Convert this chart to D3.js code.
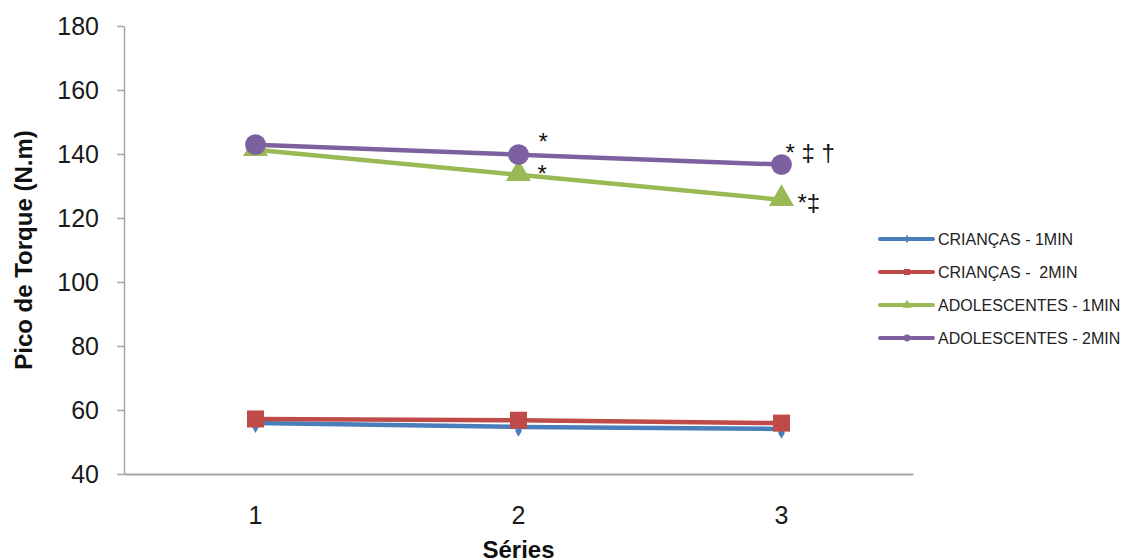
<!DOCTYPE html>
<html>
<head>
<meta charset="utf-8">
<script src="https://cdn.jsdelivr.net/npm/d3@7"></script>
<style>
  body { margin: 0; background: #fff; }
  svg { font-family: "Liberation Sans", Arial, sans-serif; }
</style>
</head>
<body>
<div id="chart"></div>
<script>
// data
const series = ['1', '2', '3'];
const criancas1 = [55.9, 54.7, 54.1];
const criancas2 = [57.2, 56.8, 55.9];
const adolescentes1 = [141.3, 133.5, 125.7];
const adolescentes2 = [142.9, 139.8, 136.7];
const seriesNames = ['CRIANÇAS - 1MIN', 'CRIANÇAS -  2MIN', 'ADOLESCENTES - 1MIN', 'ADOLESCENTES - 2MIN'];
const seriesColors = ['#4A7EBB', '#BE4B48', '#98B954', '#7D60A0'];
const yTicks = [40, 60, 80, 100, 120, 140, 160, 180];
// significance marks: [series index, category index, label]
const marks = [[3, 1, '*'], [2, 1, '*'], [3, 2, '* \u2021 \u2020'], [2, 2, '*\u2021']];

const width = 1126, height = 560;
const margin = {top: 26, right: 213, bottom: 86, left: 124};

let svg = d3.select('#chart').append('svg')
    .attr('width', width)
    .attr('height', height);

let x = d3.scaleBand()
    .domain(series)
    .range([margin.left, width - margin.right]);

let y = d3.scaleLinear()
    .domain([40, 180])
    .range([height - margin.bottom, margin.top]);

// y axis
let yAxis = svg.append('g')
    .attr('transform', 'translate(' + margin.left + ',0)')
    .call(d3.axisLeft(y).tickValues(yTicks).tickSize(7).tickPadding(18).tickSizeOuter(0));
yAxis.select('.domain').attr('stroke', '#a6a6a6').attr('stroke-width', 1.5);
yAxis.selectAll('.tick line').attr('stroke', '#a6a6a6').attr('stroke-width', 1.5);
yAxis.selectAll('.tick text')
    .attr('font-size', 25)
    .attr('fill', '#1a1a1a')
    .attr('font-family', '"Liberation Sans", Arial, sans-serif');

// x axis
let xAxis = svg.append('g')
    .attr('transform', 'translate(0,' + (height - margin.bottom) + ')')
    .call(d3.axisBottom(x).tickSize(0).tickPadding(32).tickSizeOuter(0));
xAxis.select('.domain').attr('stroke', '#a6a6a6').attr('stroke-width', 2);
xAxis.selectAll('.tick text')
    .attr('font-size', 25)
    .attr('fill', '#1a1a1a')
    .attr('font-family', '"Liberation Sans", Arial, sans-serif');

// axis titles
svg.append('text')
    .attr('transform', 'translate(32,' + (margin.top + (height - margin.bottom - margin.top) / 2) + ') rotate(-90)')
    .attr('text-anchor', 'middle')
    .attr('font-size', 24)
    .attr('font-weight', 'bold')
    .attr('fill', '#111')
    .text('Pico de Torque (N.m)');

svg.append('text')
    .attr('x', x('2') + x.bandwidth() / 2)
    .attr('y', 558)
    .attr('text-anchor', 'middle')
    .attr('font-size', 24)
    .attr('font-weight', 'bold')
    .attr('fill', '#111')
    .text('Séries');

let allData = [criancas1, criancas2, adolescentes1, adolescentes2];
let cx = d => x(d) + x.bandwidth() / 2;

let line = d3.line()
    .x((d, i) => cx(series[i]))
    .y(d => y(d));

let symbols = [
    d3.symbol().type(d3.symbolDiamond).size(40),
    d3.symbol().type(d3.symbolSquare).size(290),
    d3.symbol().type(d3.symbolTriangle).size(270),
    d3.symbol().type(d3.symbolCircle).size(340)
];

allData.forEach((vals, k) => {
    let g = svg.append('g');
    g.append('path')
        .attr('d', line(vals))
        .attr('fill', 'none')
        .attr('stroke', seriesColors[k])
        .attr('stroke-width', 4.5)
        .attr('stroke-linejoin', 'round');
    g.selectAll('path.pt')
        .data(vals)
        .enter().append('path')
        .attr('class', 'pt')
        .attr('transform', (d, i) => 'translate(' + cx(series[i]) + ',' + (y(d) + (k === 0 ? 4 : 0) + (k === 2 ? -1 : 0)) + ')')
        .attr('d', symbols[k]())
        .attr('fill', seriesColors[k]);
});

// annotations, offsets follow the order of marks
let markOffsets = [[20, -5], [19, 7], [4, -4], [16, 11]];
svg.selectAll('text.mark')
    .data(marks)
    .enter().append('text')
    .attr('class', 'mark')
    .attr('x', (d, i) => cx(series[d[1]]) + markOffsets[i][0])
    .attr('y', (d, i) => y(allData[d[0]][d[1]]) + markOffsets[i][1])
    .attr('font-size', 24)
    .attr('fill', '#111')
    .style('white-space', 'pre')
    .text(d => d[2]);

// legend
let legend = svg.append('g')
    .attr('transform', 'translate(880,239)');
let items = legend.selectAll('g')
    .data(seriesNames)
    .enter().append('g')
    .attr('transform', (d, i) => 'translate(0,' + i * 33 + ')');
items.append('line')
    .attr('x1', 0).attr('x2', 53)
    .attr('stroke', (d, i) => seriesColors[i])
    .attr('stroke-width', 4)
    .attr('stroke-linecap', 'round');
items.append('path')
    .attr('transform', 'translate(27,0)')
    .attr('d', (d, i) => d3.symbol().type([d3.symbolDiamond, d3.symbolSquare, d3.symbolTriangle, d3.symbolCircle][i]).size(i === 0 ? 20 : 36)())
    .attr('fill', (d, i) => seriesColors[i]);
items.append('text')
    .attr('x', 58)
    .attr('y', 6)
    .attr('font-size', 16)
    .attr('fill', '#222')
    .style('white-space', 'pre')
    .text(d => d);
</script>
</body>
</html>
